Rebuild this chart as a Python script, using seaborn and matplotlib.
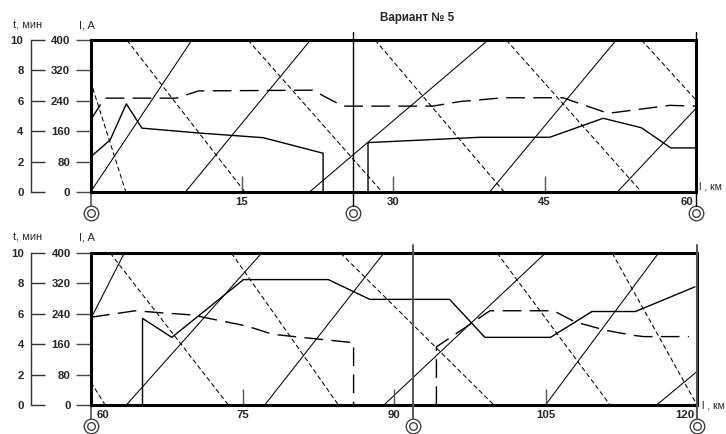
import matplotlib
matplotlib.use("Agg")
import matplotlib.pyplot as plt
import matplotlib.transforms as mtransforms
import pandas as pd
import seaborn as sns

sns.set_theme(style="white")
plt.rcParams["font.family"] = ["Liberation Sans", "DejaVu Sans"]

# ---------------- data ----------------
title = "Вариант № 5"
t_label = "t, мин"
i_label = "I, A"
l_label = "l , км"

I_ticks = [0, 80, 160, 240, 320, 400]
t_ticks = [0, 2, 4, 6, 8, 10]

top_xlim = [0, 60]
bot_xlim = [60, 120]
top_xticks = [15, 30, 45, 60]
bot_xticks = [60, 75, 90, 105, 120]
top_stations = [0, 26, 60]
bot_stations = [60, 91.9, 120]

# current I(l), A  (solid)
top_cur_km = [[0, 1.95, 3.55, 5.1, 10.85, 17.1, 23.05, 23.05],
              [27.5, 27.5, 38.6, 45.5, 50.8, 54.6, 57.5, 60]]
top_cur_I = [[92, 137, 232, 168, 155, 143, 102, 0],
             [0, 130, 144, 144, 194, 169, 116, 116]]
bot_cur_km = [[65.1, 65.1, 68.0, 75.1, 83.5, 87.6, 95.5, 99.0, 105.5, 109.6, 113.9, 119.8]]
bot_cur_I = [[0, 228, 178, 330, 330, 278, 278, 178, 178, 246, 246, 311]]

# second curve (long dashes), A scale
top_dash_km = [[0, 1.4, 8.5, 10.7, 22.0, 25.0, 33.9, 36.6, 40.9, 46.8, 51.3, 57.4, 60]]
top_dash_I = [[189, 247, 247, 266, 268, 226, 226, 238, 248, 248, 207, 228, 226]]
bot_dash_km = [[60, 64.4, 66.8, 70.0, 72.4, 75.4, 78.0, 82.3, 86.0, 86.0],
               [94.2, 94.2, 95.5, 99.5, 105.8, 107.9, 110.9, 113.5, 114.7, 119.2]]
bot_dash_I = [[231, 248, 243, 237, 224, 208, 186, 174, 164, 0],
              [0, 153, 176, 248, 248, 219, 197, 184, 180, 180]]

# time t(l), min, rising (solid thin)
top_rise_km = [[0, 10.05], [9.4, 21.8], [21.7, 39.4], [39.55, 52.1], [52.2, 60]]
top_rise_t = [[0, 10], [0, 10], [0, 10], [0, 10], [0, 5.5]]
bot_rise_km = [[60, 63.3], [63.5, 76.9], [77.2, 89.0], [89.0, 105.0], [105.0, 116.2], [116.0, 120]]
bot_rise_t = [[5.7, 10], [0, 10], [0, 10], [0, 10], [0, 10], [0, 2.2]]

# time, falling (short dashes)
top_fall_km = [[0, 3.5], [3.6, 15.3], [15.6, 28.9], [28.2, 41.0], [41.2, 54.6], [54.6, 60]]
top_fall_t = [[7.3, 0], [10, 0], [10, 0], [10, 0], [10, 0], [10, 6.05]]
bot_fall_km = [[60, 61.4], [61.9, 73.6], [73.9, 84.5], [84.7, 99.9], [100.2, 111.4], [111.6, 120]]
bot_fall_t = [[1.5, 0], [10, 0], [10, 0], [10, 0], [10, 0], [10, 0]]

# ---------------- figure ----------------
W, H = 726, 434
fig = plt.figure(figsize=(W / 100, H / 100), dpi=100)


def px_axes(l, t, r, b):
    return fig.add_axes([l / W, 1 - b / H, (r - l) / W, (b - t) / H])


def to_df(kms, vals):
    rows = []
    for s, (ks, vs) in enumerate(zip(kms, vals)):
        for k, v in zip(ks, vs):
            rows.append({"km": k, "v": v, "seg": s})
    return pd.DataFrame(rows)


def draw(ax, kms, vals, **kw):
    sns.lineplot(data=to_df(kms, vals), x="km", y="v", units="seg",
                 estimator=None, sort=False, ax=ax, legend=False, **kw)


BOLD = dict(fontsize=8.2, fontweight="bold")


def panel(box, xlim, xticks, stations, cur, dash, rise, fall, gray_st):
    ax = px_axes(*box)
    ax2 = ax.twinx()
    ax.set_zorder(ax2.get_zorder() + 1)
    ax.patch.set_visible(False)

    draw(ax2, rise[0], rise[1], color="black", linewidth=0.75)
    draw(ax2, fall[0], fall[1], color="black", linewidth=0.75,
         linestyle=(0, (4.5, 2.7)))
    draw(ax, cur[0], cur[1], color="black", linewidth=1.0)
    draw(ax, dash[0], dash[1], color="black", linewidth=1.0,
         linestyle=(0, (13.5, 6)))

    for a in (ax, ax2):
        a.set_xlim(*xlim)
        a.set_xlabel("")
        a.set_ylabel("")
    ax.set_ylim(0, 400)
    ax2.set_ylim(0, 10)

    # box
    for s in ax.spines.values():
        s.set_visible(True)
        s.set_color("black")
        s.set_linewidth(2.2)
    ax.set_yticks(I_ticks)
    ax.set_yticklabels([str(v) for v in I_ticks], **BOLD)
    ax.tick_params(axis="y", direction="out", length=11, width=1.0,
                   color="#444444", pad=3.5, left=True)
    ax.set_xticks(xticks)
    labels = ax.set_xticklabels([str(v) for v in xticks], **BOLD)
    ax.tick_params(axis="x", direction="in", length=11.5, width=1.0,
                   color="#555555", pad=3.5, bottom=True)
    if xticks[0] == xlim[0]:
        labels[0].set_ha("left")
        labels[0].set_transform(labels[0].get_transform() +
                                mtransforms.ScaledTranslation(6 / 100, 0, fig.dpi_scale_trans))
    labels[-1].set_ha("right")
    labels[-1].set_transform(labels[-1].get_transform() +
                             mtransforms.ScaledTranslation(-3 / 100, 0, fig.dpi_scale_trans))
    ax.grid(False)

    # t axis
    for k in ("top", "right", "bottom"):
        ax2.spines[k].set_visible(False)
    ax2.spines["left"].set_visible(True)
    ax2.spines["left"].set_position(("outward", 43.2))
    ax2.spines["left"].set_color("#333333")
    ax2.spines["left"].set_linewidth(1.0)
    ax2.yaxis.tick_left()
    ax2.set_yticks(t_ticks)
    ax2.set_yticklabels([str(v) for v in t_ticks], **BOLD)
    ax2.tick_params(axis="y", direction="in", length=10, width=1.0,
                    color="#333333", pad=5, left=True, right=False)
    ax2.grid(False)

    # stations: vertical lines and circles
    tr = mtransforms.blended_transform_factory(ax.transData, ax.transAxes)
    lc = "#555555" if gray_st else "black"
    ax.plot([stations[0], stations[0]], [0, -0.09], transform=tr, color="#555555",
            lw=1.2, clip_on=False)
    for st in stations[1:]:
        ax.plot([st, st], [1.053, -0.09], transform=tr, color=lc,
                lw=1.4 if gray_st else 1.0, clip_on=False, zorder=5)
    ax.plot(stations, [-0.14] * len(stations), transform=tr, linestyle="none",
            marker="o", ms=10.5, mfc="white", mec="#333333", mew=0.9, clip_on=False)
    ax.plot(stations, [-0.14] * len(stations), transform=tr, linestyle="none",
            marker="o", ms=5.5, mfc="white", mec="#333333", mew=0.9, clip_on=False)
    return ax


panel((90.5, 40, 696, 192), top_xlim, top_xticks, top_stations,
      (top_cur_km, top_cur_I), (top_dash_km, top_dash_I),
      (top_rise_km, top_rise_t), (top_fall_km, top_fall_t), False)
panel((91, 253, 697, 405), bot_xlim, bot_xticks, bot_stations,
      (bot_cur_km, bot_cur_I), (bot_dash_km, bot_dash_I),
      (bot_rise_km, bot_rise_t), (bot_fall_km, bot_fall_t), True)

# texts
fig.text(417.5 / W, 1 - 18 / H, title, ha="center", va="center", fontsize=8.4, fontweight="bold")
for yc in (25, 238):
    fig.text(28 / W, 1 - yc / H, t_label, ha="center", va="center", fontsize=8)
    fig.text(87 / W, 1 - yc / H, i_label, ha="center", va="center", fontsize=8)
fig.text(699 / W, 1 - 187 / H, l_label, ha="left", va="center", fontsize=7.6)
fig.text(702 / W, 1 - 405 / H, l_label, ha="left", va="center", fontsize=7.6)

fig.savefig("out.png", dpi=100)
